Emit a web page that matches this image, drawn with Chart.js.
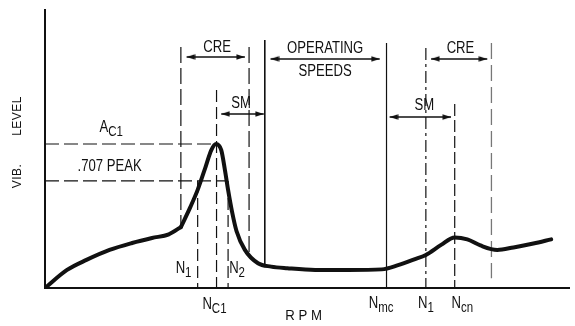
<!DOCTYPE html>
<html>
<head>
<meta charset="utf-8">
<script src="https://cdn.jsdelivr.net/npm/chart.js@4.4.1/dist/chart.umd.min.js"></script>
<style>
  html, body { margin: 0; padding: 0; background: #fff; }
  canvas { display: block; }
</style>
</head>
<body>
<canvas id="c" width="575" height="326"></canvas>
<script>
// Vibration level vs. shaft speed, both in relative units (0-100).
// Run-up from rest to the first-critical break point:
const rpmRise = [0, 4.2, 7.9, 12.3, 16.6, 20.4, 23.6, 25.9];
const vibRise = [0, 6.5, 10.1, 13.7, 16.2, 18.0, 19.3, 21.9];
// First critical peak, operating plateau and the higher-mode hump:
const rpmResp = [25.9, 27.7, 29.1, 30.6, 31.7, 32.6, 33.6, 34.3, 34.9, 35.7, 36.5, 38.1, 40.6, 43.1, 46.2, 51.5, 57.8, 64.2, 67.3, 70.4, 72.6, 75.5, 78.1, 80.5, 83.0, 86.2, 89.3, 93.1, 96.5];
const vibResp = [21.9, 29.1, 35.3, 43.5, 49.6, 51.8, 49.6, 42.4, 35.3, 27.0, 20.5, 13.7, 8.9, 7.7, 7.1, 6.5, 6.5, 6.7, 8.2, 10.3, 11.9, 15.5, 18.2, 17.5, 15.3, 13.7, 14.6, 16.0, 17.5];

// Characteristic speeds
const rpmCreStart = 25.9, rpmN1 = 29.1, rpmNc1 = 32.7, rpmN2 = 34.9, rpmCreEnd = 38.9;
const rpmOpMin = 41.9, rpmNmc = 65.1, rpmN1b = 72.6, rpmNcn = 78.1, rpmCre2End = 85.1;
// Characteristic levels
const levelAc1 = 51.8, level707 = 38.5;

const ink = '#111';
const SQUEEZE = 0.82;   // condensed lettering for the callouts

// filled arrowhead, tip at the image centre, pointing right
const arrowHead = (() => {
  const c = document.createElement('canvas');
  c.width = 18; c.height = 8;
  const g = c.getContext('2d');
  g.fillStyle = ink;
  g.beginPath(); g.moveTo(0.5, 1.3); g.lineTo(9, 4); g.lineTo(0.5, 6.7); g.closePath(); g.fill();
  return c;
})();

const pts = (xs, ys) => xs.map((x, i) => ({ x, y: ys[i] }));

function curve(xs, ys) {
  return { data: pts(xs, ys), borderColor: ink, borderWidth: 4, pointRadius: 0,
           cubicInterpolationMode: 'monotone', borderCapStyle: 'round', borderJoinStyle: 'round', order: 0 };
}
function vline(x, yTop, yBot, dash, width, color) {
  return { data: [{ x, y: yTop }, { x, y: yBot }], borderColor: color || ink, borderWidth: width || 1.2,
           borderDash: dash || [], pointRadius: 0, tension: 0, order: 2 };
}
function hline(y, x0, x1, dash) {
  return { data: [{ x: x0, y }, { x: x1, y }], borderColor: ink, borderWidth: 1.2,
           borderDash: dash, pointRadius: 0, tension: 0, order: 2 };
}
function span(y, x0, x1) {
  return { data: [{ x: x0, y }, { x: x1, y }], borderColor: ink, borderWidth: 1.4, tension: 0,
           pointStyle: arrowHead, pointRotation: [180, 0], pointRadius: 3, order: 1 };
}

const datasets = [
  curve(rpmRise, vibRise),
  curve(rpmResp, vibResp),
  // reference levels
  hline(levelAc1, 0, rpmNc1, [14, 5]),
  hline(level707, 0, 34.4, [14, 5]),
  // first critical region
  vline(rpmCreStart, 86.7, 21.9, [16, 5]),
  vline(rpmN1, level707, 0, [12, 5]),
  vline(rpmNc1, 71.2, 0, [12, 5]),
  vline(rpmN2, level707, 0, [12, 5]),
  vline(rpmCreEnd, 86.7, 12.2, [16, 5]),
  // operating speed range
  vline(rpmOpMin, 89.2, 7.6, [], 1.6),
  vline(rpmNmc, 88.1, 0, [], 1.2),
  // second critical region
  vline(rpmN1b, 86.3, 0, [12, 4, 3, 4]),
  vline(rpmNcn, 66.2, 0, [12, 4]),
  vline(rpmCre2End, 88.1, 3.5, [16, 6], 1.3, '#777'),
  // spans
  span(83.1, 27.0, 38.1),
  span(62.6, 33.6, 41.7),
  span(82.4, 43.0, 63.8),
  span(61.5, 65.7, 77.4),
  span(82.4, 73.6, 84.3)
];

// callout text: x/y in chart units, y is the text baseline
const labelSpots = [
  { t: 'CRE', x: 32.8, y: 84.9, align: 'center' },
  { t: 'SM', x: 37.4, y: 64.7, align: 'center' },
  { t: 'OPERATING', x: 53.4, y: 84.5, align: 'center' },
  { t: 'SPEEDS', x: 53.4, y: 76.3, align: 'center' },
  { t: 'SM', x: 72.3, y: 64.0, align: 'center' },
  { t: 'CRE', x: 79.2, y: 84.5, align: 'center' },
  { t: 'A', s: 'C1', x: 10.4, y: 56.1, align: 'left' },
  { t: '.707 PEAK', x: 6.2, y: 42.1, align: 'left' },
  { t: 'N', s: '1', x: 24.9, y: 5.4, align: 'left' },
  { t: 'N', s: '2', x: 35.1, y: 5.4, align: 'left' },
  { t: 'N', s: 'C1', x: 30.0, y: -7.6, align: 'left' },
  { t: 'N', s: 'mc', x: 61.7, y: -7.2, align: 'left' },
  { t: 'N', s: '1', x: 71.1, y: -7.2, align: 'left' },
  { t: 'N', s: 'cn', x: 77.5, y: -7.2, align: 'left' }
];

function narrowFont(size) { return size + 'px "Liberation Sans", Arial, sans-serif'; }
function narrowWidth(ctx, t, size, k) { ctx.font = narrowFont(size); return ctx.measureText(t).width * (k || SQUEEZE); }
function drawNarrow(ctx, t, px, py, size, k) {
  ctx.save();
  ctx.font = narrowFont(size);
  ctx.textAlign = 'left';
  ctx.textBaseline = 'alphabetic';
  ctx.translate(px, py);
  ctx.scale(k || SQUEEZE, 1);
  ctx.fillText(t, 0, 0);
  ctx.restore();
}

const textLayer = {
  id: 'textLayer',
  afterDatasetsDraw(chart) {
    const { ctx, scales: { x, y } } = chart;
    ctx.save();
    ctx.fillStyle = ink;
    for (const l of labelSpots) {
      const px = x.getPixelForValue(l.x), py = y.getPixelForValue(l.y);
      const wMain = narrowWidth(ctx, l.t, 16);
      const wSub = l.s ? narrowWidth(ctx, l.s, 14) : 0;
      const x0 = l.align === 'center' ? px - (wMain + wSub) / 2 : px;
      drawNarrow(ctx, l.t, x0, py, 16);
      if (l.s) drawNarrow(ctx, l.s, x0 + wMain, py + 4, 14);
    }
    // y-axis title, read bottom to top
    ctx.font = '12px "Liberation Sans", Arial, sans-serif';
    ctx.textAlign = 'center';
    ctx.textBaseline = 'middle';
    if ('letterSpacing' in ctx) ctx.letterSpacing = '0.5px';
    const ax = x.getPixelForValue(-5.3);
    for (const [word, lv] of [['LEVEL', 61.9], ['VIB.', 40.3]]) {
      ctx.save();
      ctx.translate(ax, y.getPixelForValue(lv));
      ctx.rotate(-Math.PI / 2);
      ctx.fillText(word, 0, 0);
      ctx.restore();
    }
    if ('letterSpacing' in ctx) ctx.letterSpacing = '0px';
    // x-axis title
    const rpmTitle = 'R P M', k = 0.88;
    const w = narrowWidth(ctx, rpmTitle, 15, k);
    drawNarrow(ctx, rpmTitle, x.getPixelForValue(49.3) - w / 2, y.getPixelForValue(-11.5), 15, k);
    ctx.restore();
  }
};

new Chart(document.getElementById('c'), {
  type: 'line',
  data: { datasets },
  plugins: [textLayer],
  options: {
    responsive: false,
    animation: false,
    events: [],
    layout: { padding: { left: 45, top: 10, right: 0, bottom: 38 } },
    plugins: { legend: { display: false }, tooltip: { enabled: false } },
    scales: {
      x: {
        type: 'linear', min: 0, max: 100,
        ticks: { display: false },
        grid: { display: false, drawTicks: false },
        border: { display: true, color: ink, width: 2 }
      },
      y: {
        type: 'linear', min: 0, max: 100,
        ticks: { display: false },
        grid: { display: false, drawTicks: false },
        border: { display: true, color: ink, width: 2 }
      }
    }
  }
});
</script>
</body>
</html>
